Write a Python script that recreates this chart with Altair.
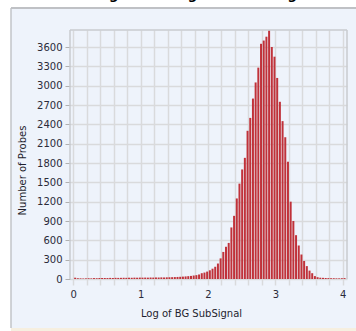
import altair as alt
import pandas as pd

BIN_WIDTH = 0.04
counts = [20, 12, 10, 8, 10, 12, 10, 14, 12, 15,
          14, 16, 15, 17, 16, 18, 17, 18, 19, 18,
          20, 19, 21, 20, 22, 21, 22, 21, 23, 22,
          24, 23, 25, 24, 26, 27, 28, 30, 32, 34,
          37, 40, 44, 48, 54, 60, 70, 90, 100, 115,
          135, 160, 190, 240, 320, 420, 500, 560, 800, 980,
          1250, 1480, 1700, 1880, 2300, 2500, 2800, 3050, 3280, 3650,
          3700, 3760, 3860, 3600, 3450, 3120, 2750, 2450, 2200, 1820,
          1200, 900, 680, 520, 380, 280, 200, 130, 90, 45,
          28, 20, 18, 16, 14, 12, 12, 10, 10, 12,
          14]
x_grid = [round(i * 0.2, 1) for i in range(21)]
y_ticks = list(range(0, 3601, 300))

bin_start = [round(i * BIN_WIDTH, 2) for i in range(len(counts))]
df = pd.DataFrame({
    "start": bin_start,
    "end": [round(s + BIN_WIDTH, 2) for s in bin_start],
    "count": counts,
})

W, H = 277, 249
GRID = "#d9dadc"
LABEL = "#2b2b3a"
FONT = "DejaVu Sans"

xscale = alt.Scale(domain=[-0.049, 4.064], nice=False, zero=False)
yscale = alt.Scale(domain=[0, 3864], nice=False)

bars = alt.Chart(df).mark_bar(color="#c0323a", binSpacing=0.7).encode(
    x=alt.X("start:Q", bin="binned", scale=xscale,
            axis=alt.Axis(values=x_grid, grid=True, gridColor=GRID, gridWidth=1.5,
                          domain=False, tickColor=GRID, tickSize=6, tickWidth=1.5,
                          labelExpr="abs(datum.value - round(datum.value)) < 0.001 ? format(datum.value, 'd') : ''",
                          labelOverlap=False, labelPadding=4, labelFlush=False,
                          title="Log of BG SubSignal", titleX=121, titleY=34,
                          titleBaseline="middle", titleAlign="center")),
    x2="end:Q",
    y=alt.Y("count:Q", scale=yscale,
            axis=alt.Axis(values=y_ticks, format="d", grid=True, gridColor=GRID, gridWidth=1.5,
                          domain=False, tickColor="#b0b0b0", tickSize=5,
                          labelPadding=3, labelOverlap=False, labelFlush=False,
                          title="Number of Probes", titleX=-48, titleY=140,
                          titleAngle=270, titleBaseline="middle", titleAlign="center")),
)

one = pd.DataFrame({"a": [0]})
FRAME = "#c9cbcf"
frame_top = alt.Chart(one).mark_rule(color=FRAME, strokeWidth=1.5).encode(
    x=alt.value(0), x2=alt.value(W), y=alt.value(0))
frame_left = alt.Chart(one).mark_rule(color=FRAME, strokeWidth=1.5).encode(
    x=alt.value(0), y=alt.value(0), y2=alt.value(H))
frame_right = alt.Chart(one).mark_rule(color=FRAME, strokeWidth=1.5).encode(
    x=alt.value(W), y=alt.value(0), y2=alt.value(H))

white_left = alt.Chart(one).mark_rect(color="white").encode(
    x=alt.value(-80), x2=alt.value(-59), y=alt.value(-40), y2=alt.value(320))
white_top = alt.Chart(one).mark_rect(color="white").encode(
    x=alt.value(-80), x2=alt.value(320), y=alt.value(-40), y2=alt.value(-22))
beige = alt.Chart(one).mark_rect(color="#f6efe0").encode(
    x=alt.value(-59), x2=alt.value(320), y=alt.value(298), y2=alt.value(320))
panel_left = alt.Chart(one).mark_rule(color="#c2c4c8", strokeWidth=1.5).encode(
    x=alt.value(-59), y=alt.value(-22), y2=alt.value(298))
panel_top = alt.Chart(one).mark_rule(color="#bfc1c5", strokeWidth=2).encode(
    x=alt.value(-59), x2=alt.value(320), y=alt.value(-22))

title = alt.Chart(one).mark_text(text="Histogram of Log of BG SubSignal", font=FONT,
                                 fontSize=13, fontWeight="bold", color="black",
                                 baseline="alphabetic", align="center").encode(
    x=alt.value(125), y=alt.value(-31.5))

chart = alt.layer(
    white_left, white_top, beige, panel_left, panel_top, title,
    bars, frame_top, frame_left, frame_right
).properties(
    width=W, height=H,
    padding={"left": 70, "top": 30, "right": 9, "bottom": 52},
    autosize=alt.AutoSizeParams(type="none"),
    background="#eef3fb",
).configure_view(stroke=None).configure_axis(
    labelFont=FONT, labelFontSize=10, labelColor=LABEL,
    titleFont=FONT, titleFontSize=10, titleFontWeight="normal", titleColor="#1e1e2e",
)

chart.save("out.html", embed_options={"renderer": "svg", "actions": False})
